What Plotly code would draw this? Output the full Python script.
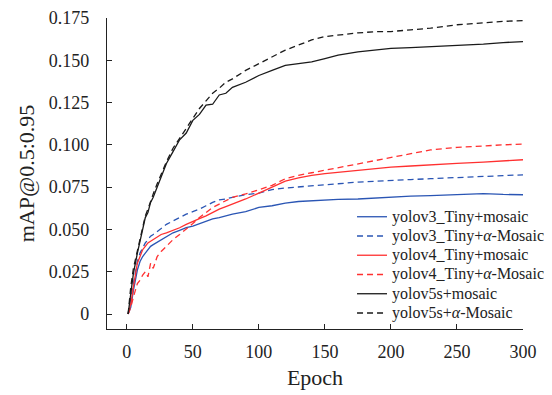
import plotly.graph_objects as go

epochs = [1, 3, 5, 8, 10, 12, 14, 16, 18, 20, 23, 26, 30, 35, 40, 45, 50, 55, 60, 65,
          70, 75, 80, 90, 100, 110, 120, 130, 140, 150, 160, 175, 190, 200, 215, 230,
          250, 270, 285, 300]

v3_mosaic = [0, 0.004, 0.014, 0.026, 0.031, 0.034, 0.036, 0.038, 0.040, 0.041, 0.0425, 0.044,
             0.046, 0.048, 0.0495, 0.051, 0.052, 0.0535, 0.055, 0.0562, 0.057, 0.058, 0.059,
             0.0605, 0.063, 0.064, 0.0655, 0.0665, 0.067, 0.0672, 0.0678, 0.068, 0.0688,
             0.0692, 0.0697, 0.070, 0.0708, 0.0712, 0.0707, 0.0705]
v3_alpha = [0, 0.008, 0.018, 0.031, 0.036, 0.039, 0.042, 0.044, 0.046, 0.047, 0.049, 0.0505,
            0.053, 0.055, 0.057, 0.059, 0.0605, 0.062, 0.064, 0.066, 0.0675, 0.068, 0.069,
            0.0705, 0.0715, 0.0735, 0.0745, 0.0752, 0.076, 0.0765, 0.077, 0.078, 0.0787,
            0.079, 0.0795, 0.080, 0.0808, 0.0812, 0.0818, 0.0823]
v4_mosaic = [0, 0.006, 0.016, 0.030, 0.034, 0.038, 0.040, 0.042, 0.043, 0.044, 0.0455, 0.047,
             0.048, 0.0495, 0.051, 0.053, 0.0545, 0.0564, 0.058, 0.060, 0.062, 0.0635, 0.065,
             0.068, 0.0715, 0.075, 0.0785, 0.0805, 0.082, 0.083, 0.0838, 0.085, 0.086,
             0.0868, 0.0875, 0.088, 0.089, 0.0898, 0.0905, 0.0912]
v4_alpha = [0, 0.004, 0.010, 0.018, 0.020, 0.023, 0.025, 0.022, 0.030, 0.027, 0.034, 0.037,
            0.040, 0.044, 0.047, 0.050, 0.0535, 0.057, 0.060, 0.063, 0.065, 0.067, 0.069,
            0.071, 0.0735, 0.076, 0.080, 0.082, 0.0835, 0.085, 0.0865, 0.0885, 0.091,
            0.0925, 0.0945, 0.097, 0.0985, 0.0995, 0.100, 0.1005]
v5_mosaic = [0, 0.014, 0.024, 0.036, 0.043, 0.050, 0.057, 0.060, 0.066, 0.069, 0.075, 0.081,
             0.089, 0.096, 0.103, 0.107, 0.1145, 0.118, 0.1235, 0.124, 0.1295, 0.1305, 0.134,
             0.137, 0.141, 0.144, 0.147, 0.148, 0.149, 0.151, 0.153, 0.155, 0.156, 0.157,
             0.1575, 0.158, 0.159, 0.1595, 0.1605, 0.161]
v5_alpha = [0, 0.016, 0.027, 0.038, 0.045, 0.052, 0.058, 0.062, 0.067, 0.071, 0.077, 0.083,
            0.090, 0.098, 0.104, 0.110, 0.1155, 0.1215, 0.126, 0.1305, 0.1335, 0.137, 0.139,
            0.144, 0.148, 0.152, 0.156, 0.159, 0.162, 0.164, 0.165, 0.1662, 0.167, 0.167,
            0.168, 0.169, 0.171, 0.1722, 0.173, 0.1735]

names = ["yolov3_Tiny+mosaic", "yolov3_Tiny+<i>α</i>-Mosaic",
         "yolov4_Tiny+mosaic", "yolov4_Tiny+<i>α</i>-Mosaic",
         "yolov5s+mosaic", "yolov5s+<i>α</i>-Mosaic"]
series = [v3_mosaic, v3_alpha, v4_mosaic, v4_alpha, v5_mosaic, v5_alpha]
colors = ["#2a55b4", "#2a55b4", "#ff3030", "#ff3030", "#1a1a1a", "#1a1a1a"]
dashes = ["solid", "6px,4px", "solid", "6px,4px", "solid", "6px,4px"]

x_ticks = [0, 50, 100, 150, 200, 250, 300]
y_ticks = [0, 0.025, 0.05, 0.075, 0.1, 0.125, 0.15, 0.175]
y_ticktext = ["0", "0.025", "0.050", "0.075", "0.100", "0.125", "0.150", "0.175"]

fig = go.Figure()
for n, s, c, d in zip(names, series, colors, dashes):
    fig.add_trace(go.Scatter(x=epochs, y=s, mode="lines",
                             name='<span style="font-size:16px">' + n + "</span>",
                             line=dict(color=c, width=1.3, dash=d)))

font = "Liberation Serif"
# page body has an 8px default margin, so the figure is 8px smaller than the window
fig.update_layout(
    width=544, height=387,
    margin=dict(l=99, r=29, t=10, b=66, autoexpand=False),
    paper_bgcolor="white", plot_bgcolor="white",
    font=dict(family=font, size=18, color="#222"),
    showlegend=True,
    legend=dict(x=0.589, y=0.408, xanchor="left", yanchor="top",
                font=dict(family=font, size=12.5, color="#222"),
                bgcolor="rgba(0,0,0,0)", borderwidth=0),
)
fig.update_xaxes(range=[-15, 300], tickvals=x_ticks, ticks="inside", ticklen=5,
                 tickcolor="#222", tickwidth=1.2, showline=True, linecolor="#222",
                 linewidth=1.3, showgrid=False, zeroline=False, automargin=False,
                 ticklabelstandoff=6, title=dict(text="Epoch", standoff=8))
fig.update_yaxes(range=[-0.00887, 0.175], tickvals=y_ticks, ticktext=y_ticktext,
                 ticks="inside", ticklen=5, tickcolor="#222", tickwidth=1.2,
                 showline=True, automargin=False, ticklabelstandoff=13,
                 linecolor="#222", linewidth=1.3, showgrid=False, zeroline=False,
                 title=dict(text="mAP@0.5:0.95", standoff=8))

fig.write_html("out.html")
